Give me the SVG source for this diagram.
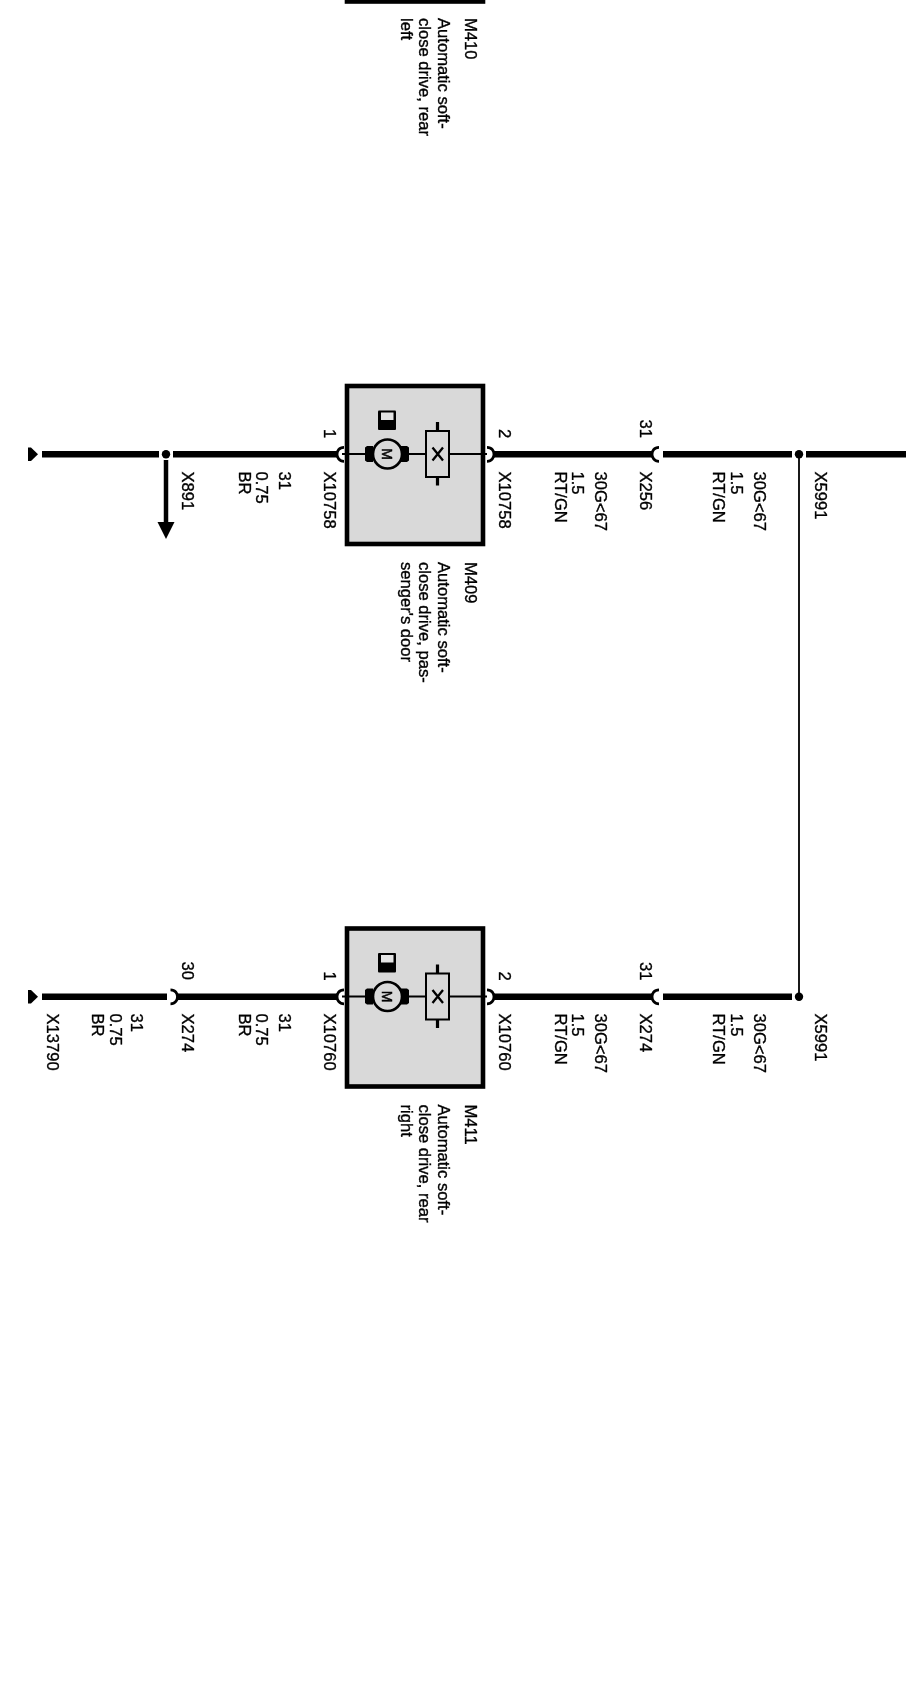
<svg xmlns="http://www.w3.org/2000/svg" width="906" height="1704" viewBox="0 0 906 1704">
<style>
text{font-family:"Liberation Sans",Arial,sans-serif;font-size:16.6px;fill:#000;stroke:#000;stroke-width:.35}
.wire{stroke:#000;stroke-width:6.6;fill:none}
.thin{stroke:#000;stroke-width:1.8;fill:none}
.conn{stroke:#000;stroke-width:2.8;fill:none}
.box{fill:#d9d9d9;stroke:#000;stroke-width:4.6}
</style>
<defs>
<filter id="soft" x="-5%" y="-5%" width="110%" height="110%"><feGaussianBlur stdDeviation="0.5"/></filter>
<g id="comp">
<rect class="box" x="347" y="386" width="136" height="158"/>
<path class="thin" d="M342 454H487"/>
<path d="M365 447.500L367 446H373V462H367L365 460.500Z"/>
<path d="M409 447.500L407 446H401V462H407L409 460.500Z"/>
<circle cx="387.500" cy="454" r="14.500" fill="#d9d9d9" stroke="#000" stroke-width="2.600"/>
<rect x="378" y="410.500" width="18" height="19.500" rx="1" fill="#000"/>
<rect x="381" y="412.500" width="12.500" height="7.500" fill="#e4e4e4"/>
<path d="M437.500 422V431M437.500 477V485.500" stroke="#000" stroke-width="3.200"/>
<rect x="426" y="431" width="23" height="46" fill="#d9d9d9" stroke="#000" stroke-width="2"/>
<path d="M432.500 447.500L443 460.500M443 447.500L432.500 460.500" stroke="#000" stroke-width="2.300" fill="none"/>
<text transform="translate(382,448.200) rotate(90)" style="font-size:14px;stroke-width:.5">M</text>
</g>
<path id="sockL" class="conn" d="M6 -7C1 -7 -1 -3 -1 0C-1 3 1 7 6 7"/>
<path id="sockR" class="conn" d="M0 -7C5 -7 7 -3 7 0C7 3 5 7 0 7"/>
<path id="term" d="M28 447.500H31L38 454.300L31 461H28Z"/>
</defs>
<g filter="url(#soft)">
<g id="connectors">
<path class="wire" d="M42 454.300H159M173 454.300H337M493 454.300H652M663 454.300H792M806 454.300H906"/>
<path class="wire" d="M42 996.800H167M177 996.800H337M493 996.800H652M663 996.800H792"/>
<path class="thin" d="M799 458V996"/>
<path d="M166 460V524" stroke="#000" stroke-width="4.500"/>
<path d="M157.500 522H174.500L166 539Z"/>
<circle cx="166" cy="454.300" r="4.200"/>
<circle cx="799" cy="454.300" r="4.200"/>
<circle cx="799" cy="996.800" r="4.200"/>
<use href="#term"/>
<use href="#term" y="542.500"/>
<use href="#sockL" x="338" y="454.300"/>
<use href="#sockR" x="487" y="454.300"/>
<use href="#sockL" x="653" y="454.300"/>
<use href="#sockL" x="338" y="996.800"/>
<use href="#sockR" x="487" y="996.800"/>
<use href="#sockL" x="653" y="996.800"/>
<use href="#sockR" x="170.500" y="996.800"/>
</g>
<g id="M410">
<rect class="box" x="347" y="-156.500" width="136" height="158"/>
<text transform="translate(465,18) rotate(90)">M410</text>
<text transform="translate(437.500,18) rotate(90)">Automatic soft-</text>
<text transform="translate(419,18) rotate(90)">close drive, rear</text>
<text transform="translate(400.500,18) rotate(90)">left</text>
</g>
<g id="M409">
<use href="#comp"/>
<text transform="translate(465,562) rotate(90)">M409</text>
<text transform="translate(437.500,562) rotate(90)">Automatic soft-</text>
<text transform="translate(419,562) rotate(90)">close drive, pas-</text>
<text transform="translate(400.500,562) rotate(90)">senger's door</text>
</g>
<g id="M411">
<use href="#comp" y="542.500"/>
<text transform="translate(465,1104.500) rotate(90)">M411</text>
<text transform="translate(437.500,1104.500) rotate(90)">Automatic soft-</text>
<text transform="translate(419,1104.500) rotate(90)">close drive, rear</text>
<text transform="translate(400.500,1104.500) rotate(90)">right</text>
</g>
<g id="labels-upper">
<text transform="translate(182,471.500) rotate(90)">X891</text>
<text transform="translate(279,471.500) rotate(90)">31</text>
<text transform="translate(256,471.500) rotate(90)">0.75</text>
<text transform="translate(239,471.500) rotate(90)">BR</text>
<text transform="translate(324,471.500) rotate(90)">X10758</text>
<text transform="translate(324,429) rotate(90)">1</text>
<text transform="translate(499,471.500) rotate(90)">X10758</text>
<text transform="translate(499,429) rotate(90)">2</text>
<text transform="translate(595,471.500) rotate(90)">30G&lt;67</text>
<text transform="translate(572,471.500) rotate(90)">1.5</text>
<text transform="translate(555,471.500) rotate(90)">RT/GN</text>
<text transform="translate(640,471.500) rotate(90)">X256</text>
<text transform="translate(640,419.500) rotate(90)">31</text>
<text transform="translate(754,471.500) rotate(90)">30G&lt;67</text>
<text transform="translate(731,471.500) rotate(90)">1.5</text>
<text transform="translate(713,471.500) rotate(90)">RT/GN</text>
<text transform="translate(815,471.500) rotate(90)">X5991</text>
</g>
<g id="labels-lower">
<text transform="translate(47,1013.500) rotate(90)">X13790</text>
<text transform="translate(131,1013.500) rotate(90)">31</text>
<text transform="translate(110,1013.500) rotate(90)">0.75</text>
<text transform="translate(92,1013.500) rotate(90)">BR</text>
<text transform="translate(182,1013.500) rotate(90)">X274</text>
<text transform="translate(182,961.500) rotate(90)">30</text>
<text transform="translate(279,1013.500) rotate(90)">31</text>
<text transform="translate(256,1013.500) rotate(90)">0.75</text>
<text transform="translate(239,1013.500) rotate(90)">BR</text>
<text transform="translate(324,1013.500) rotate(90)">X10760</text>
<text transform="translate(324,971.500) rotate(90)">1</text>
<text transform="translate(499,1013.500) rotate(90)">X10760</text>
<text transform="translate(499,971.500) rotate(90)">2</text>
<text transform="translate(595,1013.500) rotate(90)">30G&lt;67</text>
<text transform="translate(572,1013.500) rotate(90)">1.5</text>
<text transform="translate(555,1013.500) rotate(90)">RT/GN</text>
<text transform="translate(640,1013.500) rotate(90)">X274</text>
<text transform="translate(640,962) rotate(90)">31</text>
<text transform="translate(754,1013.500) rotate(90)">30G&lt;67</text>
<text transform="translate(731,1013.500) rotate(90)">1.5</text>
<text transform="translate(713,1013.500) rotate(90)">RT/GN</text>
<text transform="translate(815,1013.500) rotate(90)">X5991</text>
</g>
</g>
</svg>
